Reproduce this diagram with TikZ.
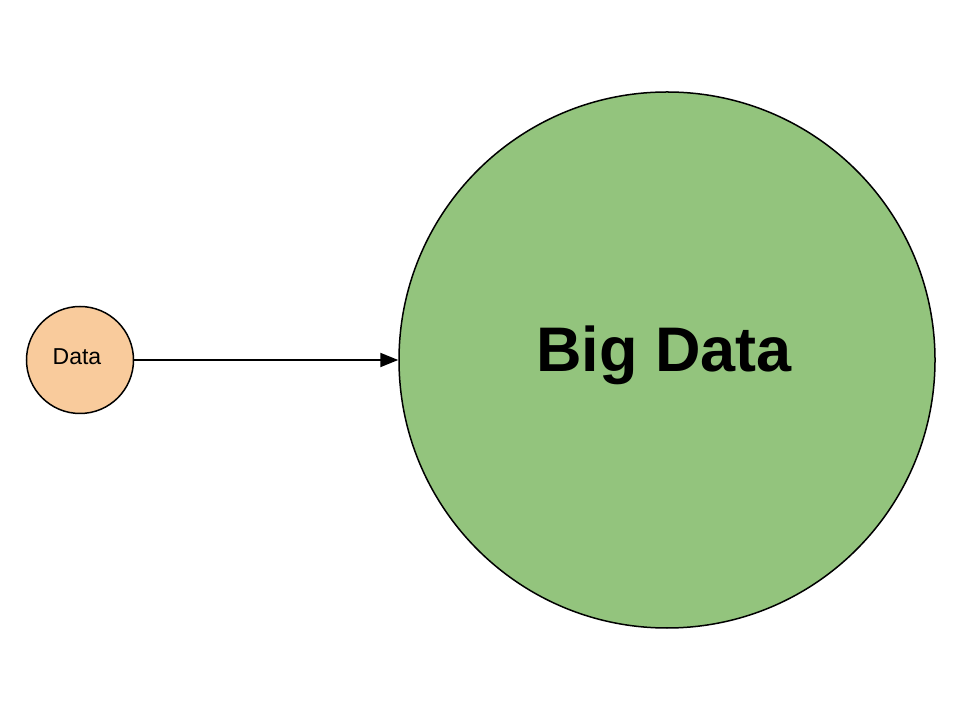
\documentclass[tikz,border=0pt]{standalone}
\usepackage{fontspec}
\setmainfont{Liberation Sans}
\usetikzlibrary{arrows.meta}
\definecolor{peach}{HTML}{F9CB9C}
\definecolor{leaf}{HTML}{93C47D}
\begin{document}
\begin{tikzpicture}[x=1pt,y=1pt,
  bubble/.style={circle,draw=black,line width=1.5pt,inner sep=0pt},
  link/.style={line width=2pt,-{Triangle[length=18pt,width=14pt]}}]
\useasboundingbox (0,0) rectangle (960,720);
\node[bubble,fill=peach,minimum size=107pt] (data) at (80,360) {};
\node[bubble,fill=leaf,minimum size=536pt] (big) at (667,360) {};
\node[anchor=base,font=\fontsize{23}{23}\selectfont] (dlabel) at (77,355) {Data};
\node[anchor=base,font=\fontsize{63}{63}\bfseries] (blabel) at (664,348) {Big Data};
\draw[link] (data.east) -- (big.west);
\end{tikzpicture}
\end{document}
